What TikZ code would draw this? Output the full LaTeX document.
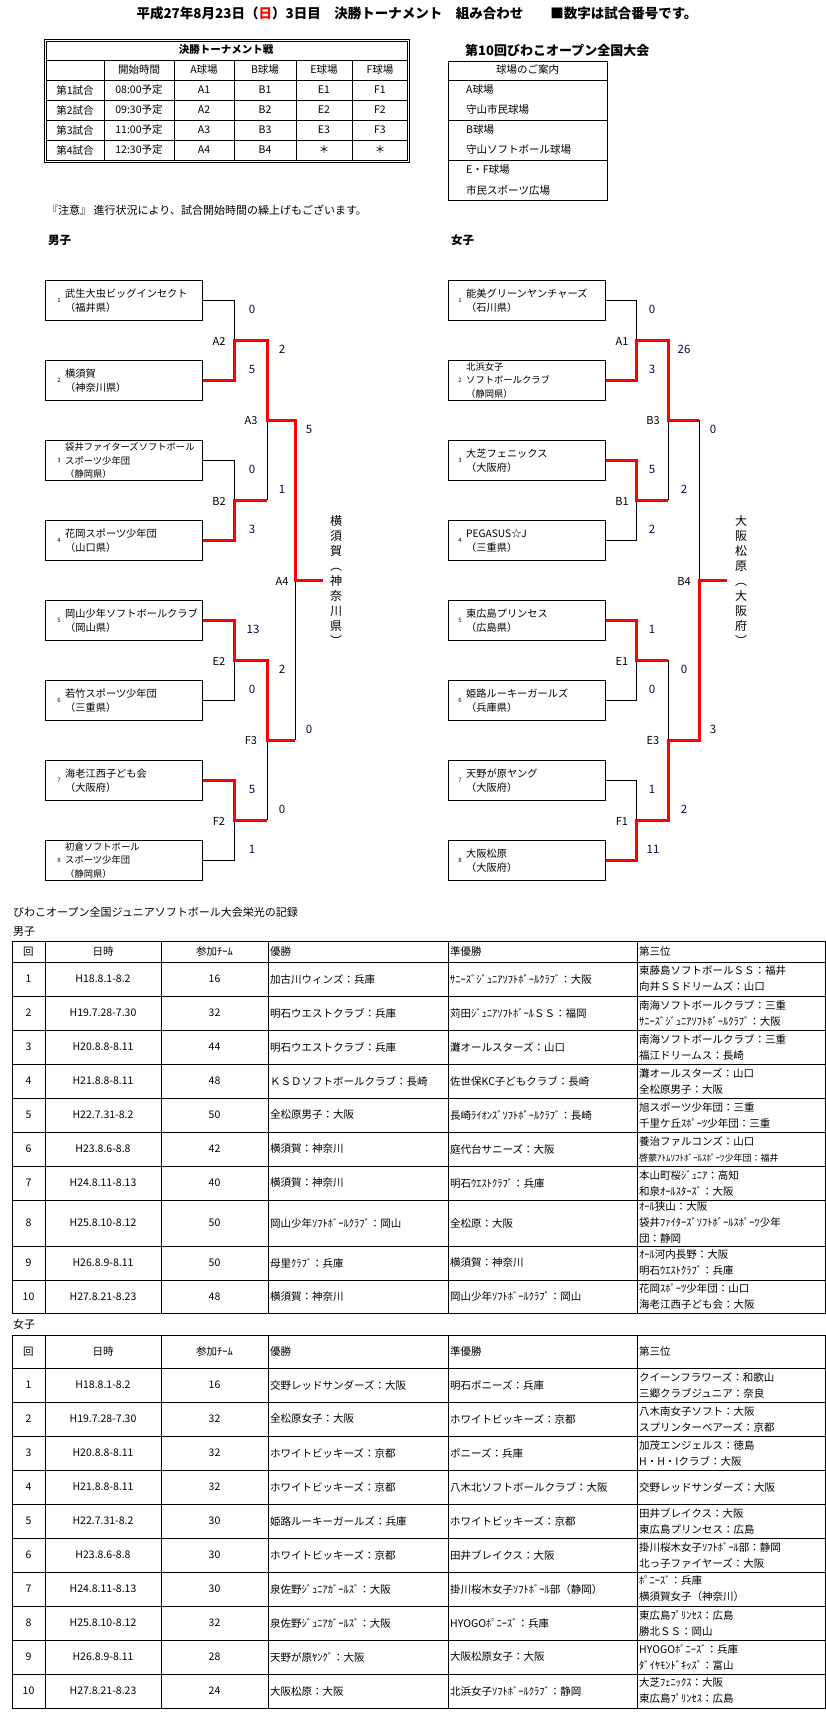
\documentclass[tikz,border=0pt]{standalone}
\usepackage{fontspec}
\setmainfont{Noto Sans CJK JP}

\begin{document}
\begin{tikzpicture}[x=1pt, y=-1pt,
    gridline/.style={line width=1pt},
    teambox/.style={draw, line width=1pt, anchor=north west, inner sep=0pt, minimum width=157pt, minimum height=40pt},
    teamname/.style={anchor=west, align=left, inner sep=0pt, font=\fontsize{10.2}{14}\selectfont},
    longname/.style={anchor=west, align=left, inner sep=0pt, font=\fontsize{9.3}{13.5}\selectfont},
    seednum/.style={inner sep=0pt, font=\fontsize{6}{6}\selectfont},
    loseline/.style={line width=1pt},
    winline/.style={line width=3pt, winred},
    score/.style={inner sep=0pt, text=scorenavy, font=\fontsize{11.5}{12}\selectfont},
    matchname/.style={inner sep=0pt, font=\fontsize{11}{12}\selectfont},
    champ/.style={inner sep=0pt, align=center, font=\fontsize{12}{15}\selectfont},
    celltext/.style={inner sep=0pt, font=\fontsize{10.5}{13}\selectfont},
    cellleft/.style={inner sep=0pt, anchor=west, align=left, font=\fontsize{10.5}{16}\selectfont},
    headtext/.style={inner sep=0pt, font=\bfseries\fontsize{10.5}{13}\selectfont},
    sectiontext/.style={inner sep=0pt, anchor=west, font=\bfseries\fontsize{11.5}{13}\selectfont},
  ]
    % Define colors
    \definecolor{winred}{RGB}{255, 0, 0}
    \definecolor{scorenavy}{RGB}{10, 10, 70}

    \fill[white] (0,0) rectangle (826,1729);
    \useasboundingbox (0,0) rectangle (826,1729);

    % Title
    \node[inner sep=0pt, font=\bfseries\fontsize{13.5}{16}\selectfont] (title) at (417,13)
        {平成27年8月23日（{\color{winred}日}）3日目　決勝トーナメント　組み合わせ　　■数字は試合番号です。};

    % Schedule table
    \draw[gridline] (44,39) rectangle (409,162);
    \draw[gridline] (46,41) rectangle (407,160);
    \foreach \y in {60,80,100,120,140} \draw[gridline] (46,\y) -- (407,\y);
    \foreach \x in {104,174,234,296,352} \draw[gridline] (\x,60) -- (\x,160);
    \node[headtext] (schedtitle) at (226,50) {決勝トーナメント戦};
    \foreach \x/\t [count=\i] in {139/開始時間,204/A球場,265/B球場,324/E球場,380/F球場}
        \node[celltext] (schedh\i) at (\x,70) {\t};
    \foreach \sy/\sn/\stime/\sA/\sB/\sE/\sF in {90/1/08:00/A1/B1/E1/F1, 110/2/09:30/A2/B2/E2/F2,
                                                130/3/11:00/A3/B3/E3/F3, 150/4/12:30/A4/B4/＊/＊} {
        \node[celltext] (game\sn) at (75,\sy) {第\sn{}試合};
        \node[celltext] (time\sn) at (139,\sy) {\stime{}予定};
        \node[celltext] (gA\sn) at (204,\sy) {\sA};
        \node[celltext] (gB\sn) at (265,\sy) {\sB};
        \node[celltext] (gE\sn) at (324,\sy) {\sE};
        \node[celltext] (gF\sn) at (380,\sy) {\sF};
    }

    % Venue box
    \node[sectiontext, font=\bfseries\fontsize{13}{15}\selectfont] (cuptitle) at (465,50) {第10回びわこオープン全国大会};
    \draw[gridline] (448,61) rectangle (607,200);
    \foreach \y in {80,120,160} \draw[gridline] (448,\y) -- (607,\y);
    \node[celltext] (venuehead) at (527.5,70) {球場のご案内};
    \foreach \y/\t [count=\i] in {90/A球場,110/守山市民球場,130/B球場,150/守山ソフトボール球場,170/E・F球場,190/市民スポーツ広場}
        \node[celltext, anchor=west] (venue\i) at (466,\y) {\t};

    \node[celltext, anchor=west, font=\fontsize{11}{13}\selectfont] (notice) at (47,210)
        {『注意』 進行状況により、試合開始時間の繰上げもございます。};

    % Bracket headings
    \node[sectiontext] (boyshead) at (48,240) {男子};
    \node[sectiontext] (girlshead) at (451,240) {女子};

    % Team boxes
    \foreach \i in {1,...,8} {
        \node[teambox] (m\i) at (45,200+80*\i) {};
        \node[seednum] (ms\i) at ([xshift=14pt]m\i.west) {\i};
        \node[teambox] (w\i) at (448,200+80*\i) {};
        \node[seednum] (ws\i) at ([xshift=12pt]w\i.west) {\i};
    }
    \node[teamname] (mn1) at ([xshift=20pt]m1.west) {武生大虫ビッグインセクト\\（福井県）};
    \node[teamname] (mn2) at ([xshift=20pt]m2.west) {横須賀\\（神奈川県）};
    \node[longname] (mn3) at ([xshift=20pt]m3.west) {袋井ファイターズソフトボール\\スポーツ少年団\\（静岡県）};
    \node[teamname] (mn4) at ([xshift=20pt]m4.west) {花岡スポーツ少年団\\（山口県）};
    \node[teamname] (mn5) at ([xshift=20pt]m5.west) {岡山少年ソフトボールクラブ\\（岡山県）};
    \node[teamname] (mn6) at ([xshift=20pt]m6.west) {若竹スポーツ少年団\\（三重県）};
    \node[teamname] (mn7) at ([xshift=20pt]m7.west) {海老江西子ども会\\（大阪府）};
    \node[longname] (mn8) at ([xshift=20pt]m8.west) {初倉ソフトボール\\スポーツ少年団\\（静岡県）};

    \node[teamname] (wn1) at ([xshift=18pt]w1.west) {能美グリーンヤンチャーズ\\（石川県）};
    \node[longname] (wn2) at ([xshift=18pt]w2.west) {北浜女子\\ソフトボールクラブ\\（静岡県）};
    \node[teamname] (wn3) at ([xshift=18pt]w3.west) {大芝フェニックス\\（大阪府）};
    \node[teamname] (wn4) at ([xshift=18pt]w4.west) {PEGASUS☆J\\（三重県）};
    \node[teamname] (wn5) at ([xshift=18pt]w5.west) {東広島プリンセス\\（広島県）};
    \node[teamname] (wn6) at ([xshift=18pt]w6.west) {姫路ルーキーガールズ\\（兵庫県）};
    \node[teamname] (wn7) at ([xshift=18pt]w7.west) {天野が原ヤング\\（大阪府）};
    \node[teamname] (wn8) at ([xshift=18pt]w8.west) {大阪松原\\（大阪府）};

    % Match points
    \coordinate (bA2) at (234,340);
    \coordinate (bB2) at (234,500);
    \coordinate (bE2) at (234,660);
    \coordinate (bF2) at (234,820);
    \coordinate (bA3) at (267,420);
    \coordinate (bF3) at (267,740);
    \coordinate (bA4) at (295,580);
    \coordinate (bEnd) at (323,580);

    \coordinate (gA1) at (636,340);
    \coordinate (gB1) at (636,500);
    \coordinate (gE1) at (636,660);
    \coordinate (gF1) at (636,820);
    \coordinate (gB3) at (668,420);
    \coordinate (gE3) at (668,740);
    \coordinate (gB4) at (699,580);
    \coordinate (gEnd) at (727,580);

    % Draw the losing sides
    \draw[loseline] (m1.east) -| (bA2);
    \draw[loseline] (m3.east) -| (bB2);
    \draw[loseline] (m6.east) -| (bE2);
    \draw[loseline] (m8.east) -| (bF2);
    \draw[loseline] (bB2 -| bA3) -- (bA3);
    \draw[loseline] (bF2 -| bF3) -- (bF3);
    \draw[loseline] (bF3 -| bA4) -- (bA4);

    \draw[loseline] (w1.east) -| (gA1);
    \draw[loseline] (w4.east) -| (gB1);
    \draw[loseline] (w6.east) -| (gE1);
    \draw[loseline] (w7.east) -| (gF1);
    \draw[loseline] (gB1 -| gB3) -- (gB3);
    \draw[loseline] (gE1 -| gE3) -- (gE3);
    \draw[loseline] (gB3 -| gB4) -- (gB4);

    % Draw the winning paths
    \draw[winline] (m2.east) -| (bA2) -| (bA3) -| (bA4) -- (bEnd);
    \draw[winline] (m4.east) -| (bB2) -- (bB2 -| bA3);
    \draw[winline] (m5.east) -| (bE2) -| (bF3) -- (bF3 -| bA4);
    \draw[winline] (m7.east) -| (bF2) -- (bF2 -| bF3);

    \draw[winline] (w2.east) -| (gA1) -| (gB3) -- (gB3 -| gB4);
    \draw[winline] (w3.east) -| (gB1) -- (gB1 -| gB3);
    \draw[winline] (w5.east) -| (gE1) -- (gE1 -| gE3);
    \draw[winline] (w8.east) -| (gF1) -| (gE3) -| (gB4) -- (gEnd);

    % Match names
    \foreach \x/\y/\t in {219/341/A2, 219/501/B2, 219/661/E2, 219/821/F2, 251/421/A3, 251/741/F3, 282/581/A4,
                          622/341/A1, 622/501/B1, 622/661/E1, 622/821/F1, 653/421/B3, 653/741/E3, 684/581/B4}
        \node[matchname] (lab\t) at (\x,\y) {\t};

    % Scores
    \foreach \x/\y/\s in {252/309/0, 252/369/5, 252/469/0, 252/529/3, 253/629/13, 252/689/0, 252/789/5, 252/849/1,
                          282/349/2, 282/489/1, 282/669/2, 282/809/0, 309/429/5, 309/729/0,
                          652/309/0, 652/369/3, 652/469/5, 652/529/2, 652/629/1, 652/689/0, 652/789/1, 653/849/11,
                          684/349/26, 684/489/2, 684/669/0, 684/809/2, 713/429/0, 713/729/3}
        \node[score] (sc\x-\y) at (\x,\y) {\s};

    % Champions
    \node[champ] (bchamp) at (336,580) {横\\須\\賀\\︵\\神\\奈\\川\\県\\︶};
    \node[champ] (gchamp) at (741,580) {大\\阪\\松\\原\\︵\\大\\阪\\府\\︶};

    % Records
    \node[celltext, anchor=west, font=\fontsize{11}{13}\selectfont] (rectitle) at (13,912)
        {びわこオープン全国ジュニアソフトボール大会栄光の記録};
    \node[celltext, anchor=west, font=\fontsize{11}{13}\selectfont] (recboys) at (13,932) {男子};
    \node[celltext, anchor=west, font=\fontsize{11}{13}\selectfont] (recgirls) at (13,1324) {女子};

    % Boys record table
    \draw[gridline] (12,941) rectangle (825,1313);
    \foreach \x in {45,161,268,448,637} \draw[gridline] (\x,941) -- (\x,1313);
    \foreach \y in {962,996,1030,1064,1098,1132,1166,1200,1246,1280} \draw[gridline] (12,\y) -- (825,\y);
    \node[celltext] (bh1) at (28.5,951.5) {回};
    \node[celltext] (bh2) at (103,951.5) {日時};
    \node[celltext] (bh3) at (214.5,951.5) {参加ﾁｰﾑ};
    \node[cellleft] (bh4) at (270,951.5) {優勝};
    \node[cellleft] (bh5) at (450,951.5) {準優勝};
    \node[cellleft] (bh6) at (639,951.5) {第三位};
    \foreach \ry/\rn/\rdate/\rteams/\rwin/\rsecond/\rthird in {
        979/1/H18.8.1-8.2/16/加古川ウィンズ：兵庫/ｻﾆｰｽﾞｼﾞｭﾆｱｿﾌﾄﾎﾞｰﾙｸﾗﾌﾞ：大阪/{東藤島ソフトボールＳＳ：福井\\向井ＳＳドリームズ：山口},
        1013/2/H19.7.28-7.30/32/明石ウエストクラブ：兵庫/苅田ｼﾞｭﾆｱｿﾌﾄﾎﾞｰﾙＳＳ：福岡/{南海ソフトボールクラブ：三重\\ｻﾆｰｽﾞｼﾞｭﾆｱｿﾌﾄﾎﾞｰﾙｸﾗﾌﾞ：大阪},
        1047/3/H20.8.8-8.11/44/明石ウエストクラブ：兵庫/灘オールスターズ：山口/{南海ソフトボールクラブ：三重\\福江ドリームス：長崎},
        1081/4/H21.8.8-8.11/48/ＫＳＤソフトボールクラブ：長崎/佐世保KC子どもクラブ：長崎/{灘オールスターズ：山口\\全松原男子：大阪},
        1115/5/H22.7.31-8.2/50/全松原男子：大阪/長崎ﾗｲｵﾝｽﾞｿﾌﾄﾎﾞｰﾙｸﾗﾌﾞ：長崎/{旭スポーツ少年団：三重\\千里ケ丘ｽﾎﾟｰﾂ少年団：三重},
        1149/6/H23.8.6-8.8/42/横須賀：神奈川/庭代台サニーズ：大阪/{養治ファルコンズ：山口\\{\fontsize{9}{12}\selectfont 啓蒙ｱﾄﾑｿﾌﾄﾎﾞｰﾙｽﾎﾟｰﾂ少年団：福井}},
        1183/7/H24.8.11-8.13/40/横須賀：神奈川/明石ｳｴｽﾄｸﾗﾌﾞ：兵庫/{本山町桜ｼﾞｭﾆｱ：高知\\和泉ｵｰﾙｽﾀｰｽﾞ：大阪},
        1223/8/H25.8.10-8.12/50/岡山少年ｿﾌﾄﾎﾞｰﾙｸﾗﾌﾞ：岡山/全松原：大阪/{ｵｰﾙ狭山：大阪\\袋井ﾌｧｲﾀｰｽﾞｿﾌﾄﾎﾞｰﾙｽﾎﾟｰﾂ少年\\団：静岡},
        1263/9/H26.8.9-8.11/50/母里ｸﾗﾌﾞ：兵庫/横須賀：神奈川/{ｵｰﾙ河内長野：大阪\\明石ｳｴｽﾄｸﾗﾌﾞ：兵庫},
        1296.5/10/H27.8.21-8.23/48/横須賀：神奈川/岡山少年ｿﾌﾄﾎﾞｰﾙｸﾗﾌﾞ：岡山/{花岡ｽﾎﾟｰﾂ少年団：山口\\海老江西子ども会：大阪}} {
        \node[celltext] (bn\rn) at (28.5,\ry) {\rn};
        \node[celltext] (bd\rn) at (103,\ry) {\rdate};
        \node[celltext] (bt\rn) at (214.5,\ry) {\rteams};
        \node[cellleft] (bw\rn) at (270,\ry) {\rwin};
        \node[cellleft] (bs\rn) at (450,\ry) {\rsecond};
        \node[cellleft] (bthird\rn) at (639,\ry) {\rthird};
    }

    % Girls record table
    \draw[gridline] (12,1335) rectangle (825,1708);
    \foreach \x in {45,161,268,448,637} \draw[gridline] (\x,1335) -- (\x,1708);
    \foreach \y in {1368,1402,...,1674} \draw[gridline] (12,\y) -- (825,\y);
    \node[celltext] (gh1) at (28.5,1351.5) {回};
    \node[celltext] (gh2) at (103,1351.5) {日時};
    \node[celltext] (gh3) at (214.5,1351.5) {参加ﾁｰﾑ};
    \node[cellleft] (gh4) at (270,1351.5) {優勝};
    \node[cellleft] (gh5) at (450,1351.5) {準優勝};
    \node[cellleft] (gh6) at (639,1351.5) {第三位};
    \foreach \ry/\rn/\rdate/\rteams/\rwin/\rsecond/\rthird in {
        1385/1/H18.8.1-8.2/16/交野レッドサンダーズ：大阪/明石ポニーズ：兵庫/{クイーンフラワーズ：和歌山\\三郷クラブジュニア：奈良},
        1419/2/H19.7.28-7.30/32/全松原女子：大阪/ホワイトビッキーズ：京都/{八木南女子ソフト：大阪\\スプリンターベアーズ：京都},
        1453/3/H20.8.8-8.11/32/ホワイトビッキーズ：京都/ポニーズ：兵庫/{加茂エンジェルス：徳島\\H・H・Iクラブ：大阪},
        1487/4/H21.8.8-8.11/32/ホワイトビッキーズ：京都/八木北ソフトボールクラブ：大阪/{交野レッドサンダーズ：大阪},
        1521/5/H22.7.31-8.2/30/姫路ルーキーガールズ：兵庫/ホワイトビッキーズ：京都/{田井ブレイクス：大阪\\東広島プリンセス：広島},
        1555/6/H23.8.6-8.8/30/ホワイトビッキーズ：京都/田井ブレイクス：大阪/{掛川桜木女子ｿﾌﾄﾎﾞｰﾙ部：静岡\\北っ子ファイヤーズ：大阪},
        1589/7/H24.8.11-8.13/30/泉佐野ｼﾞｭﾆｱｶﾞｰﾙｽﾞ：大阪/掛川桜木女子ｿﾌﾄﾎﾞｰﾙ部（静岡）/{ﾎﾟﾆｰｽﾞ：兵庫\\横須賀女子（神奈川）},
        1623/8/H25.8.10-8.12/32/泉佐野ｼﾞｭﾆｱｶﾞｰﾙｽﾞ：大阪/HYOGOﾎﾟﾆｰｽﾞ：兵庫/{東広島ﾌﾟﾘﾝｾｽ：広島\\勝北ＳＳ：岡山},
        1657/9/H26.8.9-8.11/28/天野が原ﾔﾝｸﾞ：大阪/大阪松原女子：大阪/{HYOGOﾎﾟﾆｰｽﾞ：兵庫\\ﾀﾞｲﾔﾓﾝﾄﾞｷｯｽﾞ：富山},
        1691/10/H27.8.21-8.23/24/大阪松原：大阪/北浜女子ｿﾌﾄﾎﾞｰﾙｸﾗﾌﾞ：静岡/{大芝ﾌｪﾆｯｸｽ：大阪\\東広島ﾌﾟﾘﾝｾｽ：広島}} {
        \node[celltext] (gn\rn) at (28.5,\ry) {\rn};
        \node[celltext] (gd\rn) at (103,\ry) {\rdate};
        \node[celltext] (gt\rn) at (214.5,\ry) {\rteams};
        \node[cellleft] (gw\rn) at (270,\ry) {\rwin};
        \node[cellleft] (gs\rn) at (450,\ry) {\rsecond};
        \node[cellleft] (gthird\rn) at (639,\ry) {\rthird};
    }
\end{tikzpicture}
\end{document}
